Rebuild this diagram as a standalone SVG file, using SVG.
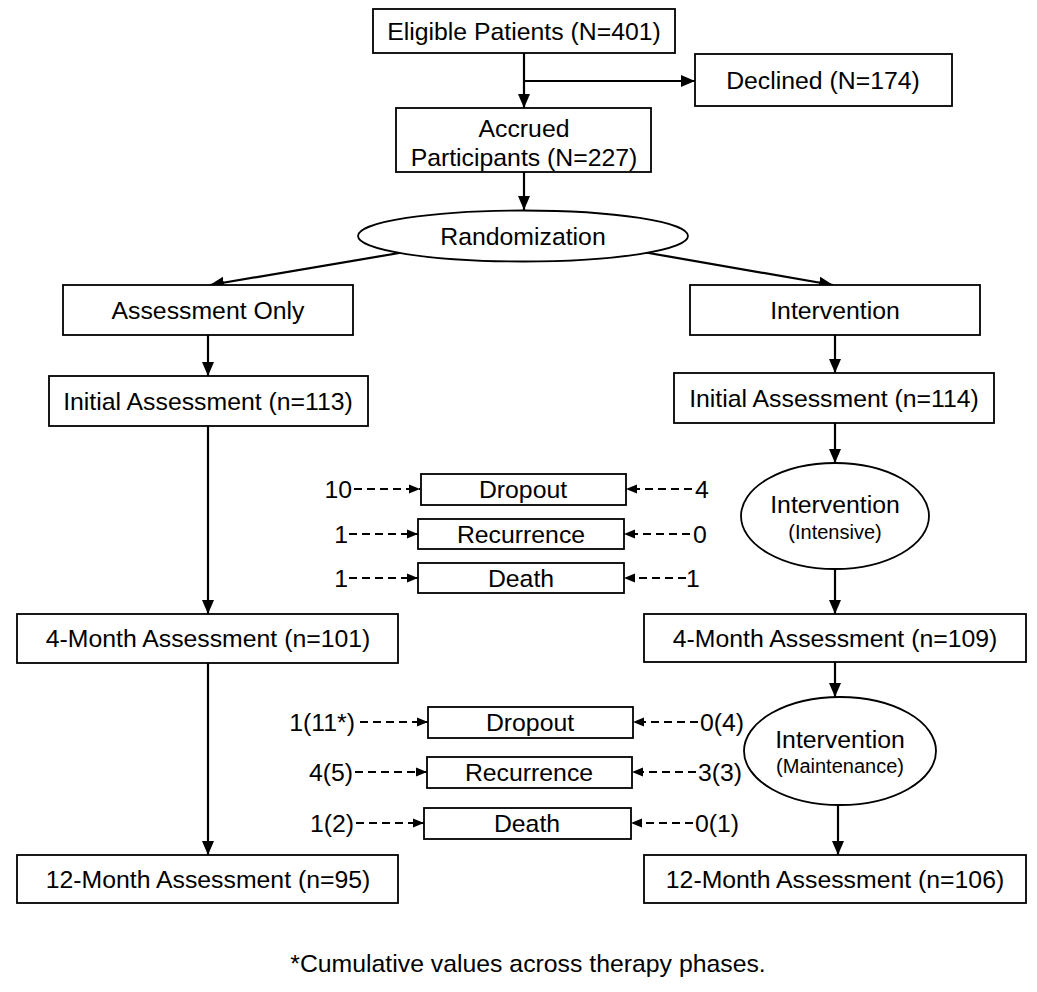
<svg xmlns="http://www.w3.org/2000/svg" width="1037" height="992" viewBox="0 0 1037 992">
<defs>
<style>
.box{fill:#fff;stroke:#000;stroke-width:1.8}
.t{font-family:"Liberation Sans",Arial,sans-serif;font-size:24.8px;fill:#000;text-anchor:middle}
.s{font-size:20px}
.l{font-family:"Liberation Sans",Arial,sans-serif;font-size:24.8px;fill:#000;text-anchor:end}
.r{font-family:"Liberation Sans",Arial,sans-serif;font-size:24.8px;fill:#000;text-anchor:start}
.ar{stroke:#000;stroke-width:2.2;fill:none;marker-end:url(#ah)}
.da{stroke:#000;stroke-width:1.8;fill:none;stroke-dasharray:8,5;marker-end:url(#dh)}
</style>
<marker id="ah" markerUnits="userSpaceOnUse" markerWidth="14" markerHeight="14" refX="14" refY="7" orient="auto"><path d="M0,1 L14,7 L0,13 z" fill="#000"/></marker>
<marker id="dh" markerUnits="userSpaceOnUse" markerWidth="11" markerHeight="11" refX="11" refY="5.5" orient="auto"><path d="M0,1 L11,5.5 L0,10 z" fill="#000"/></marker>
</defs>
<rect width="1037" height="992" fill="#fff"/>
<g id="connectors">
<line class="ar" x1="524" y1="53" x2="524" y2="108"/>
<line class="ar" x1="524" y1="81" x2="695" y2="81"/>
<line class="ar" x1="524" y1="172" x2="524" y2="210"/>
<line class="ar" x1="405" y1="252" x2="210" y2="285"/>
<line class="ar" x1="643" y1="252" x2="833" y2="285"/>
<line class="ar" x1="208" y1="335" x2="208" y2="376"/>
<line class="ar" x1="835" y1="335" x2="835" y2="373"/>
<line class="ar" x1="208" y1="426" x2="208" y2="614"/>
<line class="ar" x1="835" y1="423" x2="835" y2="463"/>
<line class="ar" x1="835" y1="569" x2="835" y2="614"/>
<line class="ar" x1="208" y1="663" x2="208" y2="855"/>
<line class="ar" x1="835" y1="662" x2="835" y2="697"/>
<line class="ar" x1="838" y1="805" x2="838" y2="855"/>
<line class="da" x1="354" y1="489" x2="420" y2="489"/>
<line class="da" x1="692" y1="489" x2="626" y2="489"/>
<line class="da" x1="349" y1="534" x2="418" y2="534"/>
<line class="da" x1="690" y1="534" x2="624" y2="534"/>
<line class="da" x1="349" y1="578" x2="418" y2="578"/>
<line class="da" x1="686" y1="578" x2="624" y2="578"/>
<line class="da" x1="360" y1="722" x2="428" y2="722"/>
<line class="da" x1="698" y1="722" x2="633" y2="722"/>
<line class="da" x1="355" y1="772" x2="427" y2="772"/>
<line class="da" x1="696" y1="772" x2="632" y2="772"/>
<line class="da" x1="356" y1="823" x2="424" y2="823"/>
<line class="da" x1="693" y1="823" x2="631" y2="823"/>
</g>
<g id="eligible"><rect class="box" x="373" y="9" width="302" height="44"/><text class="t" x="524" y="40">Eligible Patients (N=401)</text></g>
<g id="declined"><rect class="box" x="695" y="54" width="257" height="52"/><text class="t" x="823" y="89">Declined (N=174)</text></g>
<g id="accrued"><rect class="box" x="396" y="108" width="255" height="64"/><text class="t" x="524" y="137">Accrued</text><text class="t" x="524" y="166">Participants (N=227)</text></g>
<g id="randomization"><ellipse class="box" cx="523" cy="236" rx="165" ry="25.5"/><text class="t" x="523" y="245">Randomization</text></g>
<g id="assessment-only"><rect class="box" x="63" y="285" width="290" height="50"/><text class="t" x="208" y="319">Assessment Only</text></g>
<g id="intervention"><rect class="box" x="690" y="285" width="290" height="50"/><text class="t" x="835" y="319">Intervention</text></g>
<g id="initial-113"><rect class="box" x="49" y="376" width="319" height="50"/><text class="t" x="208" y="410">Initial Assessment (n=113)</text></g>
<g id="initial-114"><rect class="box" x="674" y="373" width="320" height="50"/><text class="t" x="834" y="407">Initial Assessment (n=114)</text></g>
<g id="intensive"><ellipse class="box" cx="835" cy="516" rx="94" ry="53"/><text class="t" x="835" y="513">Intervention</text><text class="t s" x="835" y="539">(Intensive)</text></g>
<g id="month4-left"><rect class="box" x="17" y="614" width="381" height="49"/><text class="t" x="208" y="647">4-Month Assessment (n=101)</text></g>
<g id="month4-right"><rect class="box" x="644" y="614" width="382" height="48"/><text class="t" x="835" y="647">4-Month Assessment (n=109)</text></g>
<g id="maintenance"><ellipse class="box" cx="840" cy="751" rx="96" ry="54"/><text class="t" x="840" y="748">Intervention</text><text class="t s" x="840" y="773">(Maintenance)</text></g>
<g id="month12-left"><rect class="box" x="17" y="855" width="381" height="48"/><text class="t" x="208" y="888">12-Month Assessment (n=95)</text></g>
<g id="month12-right"><rect class="box" x="644" y="855" width="382" height="48"/><text class="t" x="835" y="888">12-Month Assessment (n=106)</text></g>
<g id="dropout-1"><rect class="box" x="421" y="474" width="205" height="31"/><text class="t" x="523" y="498">Dropout</text></g>
<g id="recurrence-1"><rect class="box" x="418" y="519" width="206" height="30"/><text class="t" x="521" y="543">Recurrence</text></g>
<g id="death-1"><rect class="box" x="418" y="563" width="206" height="30"/><text class="t" x="521" y="587">Death</text></g>
<g id="dropout-2"><rect class="box" x="428" y="707" width="205" height="31"/><text class="t" x="530" y="731">Dropout</text></g>
<g id="recurrence-2"><rect class="box" x="427" y="757" width="205" height="31"/><text class="t" x="529" y="781">Recurrence</text></g>
<g id="death-2"><rect class="box" x="424" y="808" width="207" height="31"/><text class="t" x="527" y="832">Death</text></g>
<g id="counts">
<text class="l" x="352" y="498">10</text>
<text class="l" x="348" y="543">1</text>
<text class="l" x="348" y="587">1</text>
<text class="r" x="695" y="498">4</text>
<text class="r" x="693" y="543">0</text>
<text class="r" x="686" y="587">1</text>
<text class="l" x="355" y="731">1(11*)</text>
<text class="l" x="353" y="781">4(5)</text>
<text class="l" x="354" y="832">1(2)</text>
<text class="r" x="700" y="731">0(4)</text>
<text class="r" x="698" y="781">3(3)</text>
<text class="r" x="695" y="832">0(1)</text>
</g>
<text class="t" x="528" y="972">*Cumulative values across therapy phases.</text>
</svg>
